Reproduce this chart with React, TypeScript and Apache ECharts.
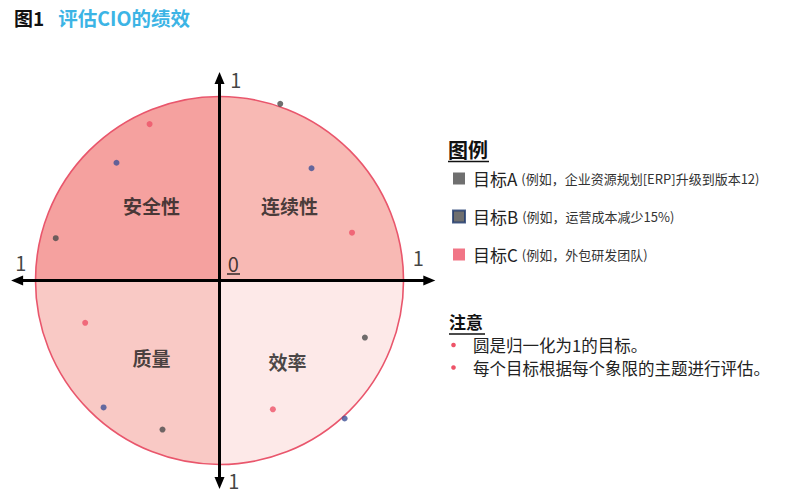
import React, { useEffect, useRef } from "react";
import * as echarts from "echarts";

const FONT = '"Noto Sans CJK SC", "Noto Sans", sans-serif';

const legendNames = ["目标A", "目标B", "目标C"];
const legendNotes = [
  "(例如，企业资源规划[ERP]升级到版本12)",
  "(例如，运营成本减少15%)",
  "(例如，外包研发团队)",
];

const goalA = [
  [0.33, 0.96],
  [-0.89, 0.23],
  [0.79, -0.31],
  [-0.31, -0.81],
];
const goalB = [
  [0.5, 0.61],
  [-0.56, 0.64],
  [-0.63, -0.69],
  [0.68, -0.75],
];
const goalC = [
  [-0.38, 0.85],
  [0.72, 0.26],
  [-0.73, -0.23],
  [0.29, -0.7],
];

const quadrantNames = ["连续性", "效率", "质量", "安全性"];
const quadrantLabelPos = [
  [0.38, 0.41],
  [0.37, -0.44],
  [-0.37, -0.42],
  [-0.37, 0.41],
];
const quadrantColors = ["#f8b9b4", "#fde9e8", "#f9c9c5", "#f5a19f"];

const axisTickLabels = [
  { text: "1", pos: [0.088, 1.09] },
  { text: "1", pos: [-1.08, 0.1] },
  { text: "1", pos: [1.08, 0.125] },
  { text: "1", pos: [0.078, -1.085] },
  { text: "0", pos: [0.075, 0.095] },
];

const noteItems = ["圆是归一化为1的目标。", "每个目标根据每个象限的主题进行评估。"];

const colA = "#4b4b4b";
const colB = "#3f5196";
const colC = "#ee5368";

export default function App() {
  const ref = useRef<HTMLDivElement>(null);
  useEffect(() => {
    document.body.style.margin = "0";
    const chart = echarts.init(ref.current!, null, { renderer: "svg" });
    const axisCommon = {
      type: "value",
      z: 10,
      splitLine: { show: false },
      axisTick: { show: false },
      axisLabel: { show: false },
      axisLine: {
        show: true,
        onZero: true,
        symbol: ["triangle", "triangle"],
        symbolSize: [10, 12],
        lineStyle: { color: "#000", width: 3 },
      },
    };
    const option: any = {
      animation: false,
      textStyle: { fontFamily: FONT },
      title: {
        left: 9,
        top: 3,
        text: "{a|图1}{b|评估CIO的绩效}",
        textStyle: {
          rich: {
            a: { fontSize: 19, fontWeight: "bold", color: "#111", fontFamily: FONT, padding: [0, 14, 0, 0] },
            b: { fontSize: 19.5, fontWeight: "bold", color: "#3cb4e5", fontFamily: FONT },
          },
        },
      },
      grid: { left: 17.1, top: 78.1, width: 412.2, height: 404.8 },
      xAxis: { ...axisCommon, min: -1.1, max: 1.14 },
      yAxis: { ...axisCommon, min: -1.1, max: 1.1 },
      legend: {
        orient: "vertical",
        left: 447,
        top: 165,
        itemWidth: 12,
        itemHeight: 12,
        itemGap: 21,
        icon: "rect",
        selectedMode: false,
        data: [
          { name: legendNames[0], itemStyle: { color: colA } },
          { name: legendNames[1], itemStyle: { color: "#4b4b4b", borderColor: "#1f3a6e", borderWidth: 2 } },
          { name: legendNames[2], itemStyle: { color: colC } },
        ],
        formatter: (name: string) => {
          const i = legendNames.indexOf(name);
          return `{n|${name}}{d|${legendNotes[i]}}`;
        },
        textStyle: {
          rich: {
            n: { fontSize: 17, color: "#222", padding: [0, 4, 0, 3], fontFamily: FONT },
            d: { fontSize: 13, color: "#333", fontFamily: FONT },
          },
        },
      },
      graphic: [
        { type: "text", left: 448, top: 139, z: 20, style: { text: "图例", fontSize: 20, fontWeight: "bold", fill: "#111", fontFamily: FONT } },
        { type: "line", z: 20, shape: { x1: 448, y1: 161.5, x2: 489, y2: 161.5 }, style: { stroke: "#111", lineWidth: 1.5 } },
        { type: "text", left: 449, top: 313, z: 20, style: { text: "注意", fontSize: 17, fontWeight: "bold", fill: "#111", fontFamily: FONT } },
        { type: "line", z: 20, shape: { x1: 449, y1: 334, x2: 485, y2: 334 }, style: { stroke: "#111", lineWidth: 1.5 } },
        { type: "line", z: 100, shape: { x1: 227, y1: 274, x2: 240, y2: 274 }, style: { stroke: "#111", lineWidth: 1.3 } },
        ...noteItems.flatMap((t, i) => [
          { type: "circle", z: 20, shape: { cx: 453.5, cy: 345 + i * 22.5, r: 2.3 }, style: { fill: colC } },
          {
            type: "text",
            z: 20,
            x: 473,
            y: 345 + i * 22.5,
            style: { text: t, fontSize: 16.5, lineHeight: 19, fill: "#222", fontFamily: FONT, verticalAlign: "middle", align: "left" },
          },
        ]),
      ],
      series: [
        {
          type: "custom",
          coordinateSystem: "cartesian2d",
          silent: true,
          z: 1,
          data: quadrantNames.map((n) => ({ name: n, value: [0, 0] })),
          renderItem: (params: any, api: any) => {
            const c = api.coord([0, 0]);
            const r = api.size([1, 1])[0];
            const i = params.dataIndex;
            const start = -Math.PI / 2 + (i * Math.PI) / 2;
            const end = start + Math.PI / 2;
            return {
              type: "group",
              children: [
                {
                  type: "sector",
                  shape: { cx: c[0], cy: c[1], r0: 0, r, startAngle: start, endAngle: end, clockwise: true },
                  style: { fill: quadrantColors[i], stroke: "none" },
                },
                {
                  type: "arc",
                  shape: { cx: c[0], cy: c[1], r, startAngle: start, endAngle: end, clockwise: true },
                  style: { stroke: "#e9566c", lineWidth: 1.6, fill: "none" },
                },
              ],
            };
          },
        },
        {
          type: "scatter",
          name: "quadrantLabels",
          silent: true,
          symbolSize: 0,
          z: 5,
          data: quadrantNames.map((n, i) => ({ name: n, value: quadrantLabelPos[i] })),
          label: {
            show: true,
            position: "inside",
            formatter: (p: any) => p.name,
            fontSize: 19,
            fontWeight: "bold",
            color: "#1a1a1a",
            fontFamily: FONT,
          },
        },
        {
          type: "scatter",
          name: "axisTicks",
          silent: true,
          symbolSize: 0,
          z: 12,
          data: axisTickLabels.map((d) => ({ name: d.text, value: d.pos })),
          label: {
            show: true,
            position: "inside",
            formatter: (p: any) => p.name,
            fontSize: 20,
            color: "#111",
            fontFamily: FONT,
          },
        },
        { type: "scatter", name: legendNames[0], symbolSize: 6, z: 6, itemStyle: { color: colA }, data: goalA },
        { type: "scatter", name: legendNames[1], symbolSize: 6, z: 6, itemStyle: { color: colB }, data: goalB },
        { type: "scatter", name: legendNames[2], symbolSize: 6, z: 6, itemStyle: { color: colC }, data: goalC },
      ],
    };
    chart.setOption(option);
    return () => chart.dispose();
  }, []);
  return <div ref={ref} style={{ width: 812, height: 501 }} />;
}
